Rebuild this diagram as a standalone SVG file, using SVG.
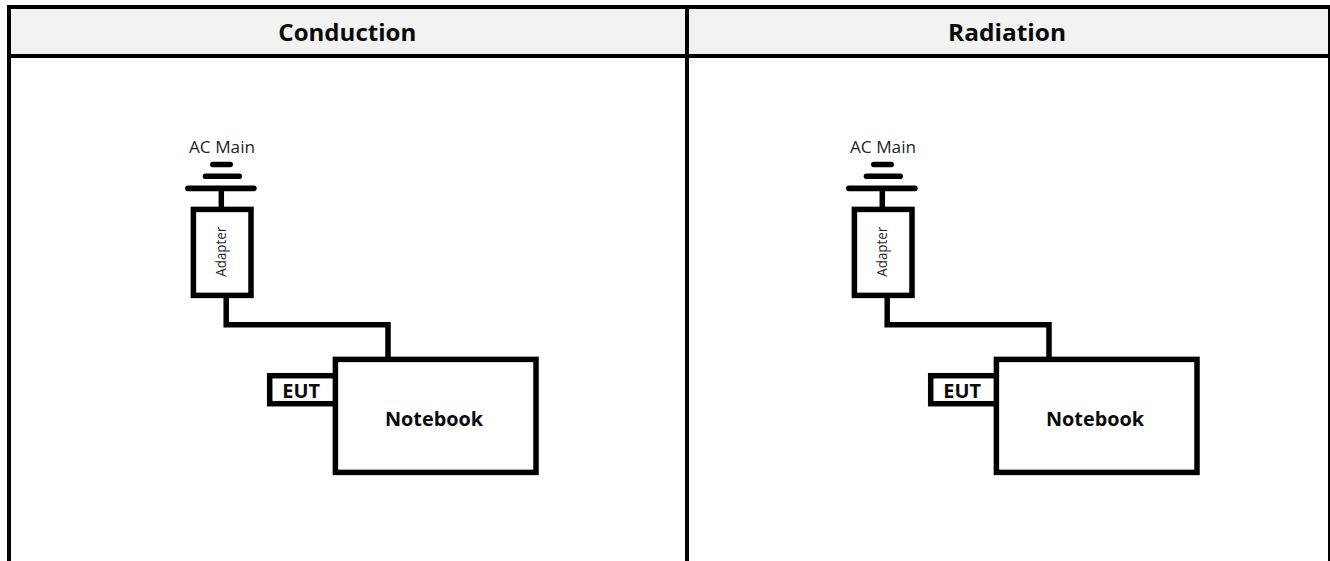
<svg xmlns="http://www.w3.org/2000/svg" width="1330" height="561" viewBox="0 0 1330 561">
<style>
.head{font:700 24px "Open Sans",sans-serif;fill:#0a0a0a}
.lbl{font:700 20px "Open Sans",sans-serif;fill:#0a0a0a}
.ac{font:400 16px "Open Sans",sans-serif;fill:#1f1f1f}
.ad{font:400 14.500px "Open Sans",sans-serif;fill:#1f1f1f}
.box{fill:#fff;stroke:#000;stroke-width:5.500}
.wire{fill:none;stroke:#000;stroke-width:5.500}
.bar{fill:#000}
.rule{fill:#000}
</style>
<defs>
<g id="ground">
<rect class="bar" x="210" y="161.7" width="23" height="5.6" rx="2.8"/>
<rect class="bar" x="202.7" y="173.4" width="39.3" height="5.6" rx="2.8"/>
<rect class="bar" x="185" y="185.4" width="71.7" height="5.8" rx="2.9"/>
</g>
</defs>
<g id="table">
<rect x="9" y="7" width="1319" height="49" fill="#f2f2f2"/>
<rect class="rule" x="7" y="5" width="1323" height="4"/>
<rect class="rule" x="7" y="54" width="1323" height="4"/>
<rect class="rule" x="7" y="5" width="4" height="556"/>
<rect class="rule" x="685" y="5" width="4" height="556"/>
<rect class="rule" x="1328" y="5" width="2" height="556"/>
<text class="head" x="278.300" y="41" textLength="138" lengthAdjust="spacingAndGlyphs">Conduction</text>
<text class="head" x="948" y="41" textLength="118" lengthAdjust="spacingAndGlyphs">Radiation</text>
</g>
<g id="connectors">
<g id="wires-conduction">
<path class="wire" d="M221.300 188V207"/>
<path class="wire" d="M226.200 298V324.700H388V357"/>
</g>
<g id="wires-radiation" transform="translate(661 0)">
<path class="wire" d="M221.300 188V207"/>
<path class="wire" d="M226.200 298V324.700H388V357"/>
</g>
</g>
<g id="ac-main-conduction">
<use href="#ground"/>
<text class="ac" x="189" y="153" textLength="66" lengthAdjust="spacingAndGlyphs">AC Main</text>
</g>
<g id="adapter-conduction">
<rect class="box" x="193.400" y="209.400" width="57.600" height="86"/>
<text class="ad" transform="translate(225.500 276.700) rotate(-90)" textLength="50" lengthAdjust="spacingAndGlyphs">Adapter</text>
</g>
<g id="eut-conduction">
<rect class="box" x="269.700" y="375.700" width="66" height="28"/>
<text class="lbl" x="282.300" y="397.700" textLength="37.700" lengthAdjust="spacingAndGlyphs">EUT</text>
</g>
<g id="notebook-conduction">
<rect class="box" x="335.400" y="359.400" width="200.600" height="113"/>
<text class="lbl" x="385" y="426" textLength="98" lengthAdjust="spacingAndGlyphs">Notebook</text>
</g>
<g transform="translate(661 0)">
<g id="ac-main-radiation">
<use href="#ground"/>
<text class="ac" x="189" y="153" textLength="66" lengthAdjust="spacingAndGlyphs">AC Main</text>
</g>
<g id="adapter-radiation">
<rect class="box" x="193.400" y="209.400" width="57.600" height="86"/>
<text class="ad" transform="translate(225.500 276.700) rotate(-90)" textLength="50" lengthAdjust="spacingAndGlyphs">Adapter</text>
</g>
<g id="eut-radiation">
<rect class="box" x="269.700" y="375.700" width="66" height="28"/>
<text class="lbl" x="282.300" y="397.700" textLength="37.700" lengthAdjust="spacingAndGlyphs">EUT</text>
</g>
<g id="notebook-radiation">
<rect class="box" x="335.400" y="359.400" width="200.600" height="113"/>
<text class="lbl" x="385" y="426" textLength="98" lengthAdjust="spacingAndGlyphs">Notebook</text>
</g>
</g>
</svg>
